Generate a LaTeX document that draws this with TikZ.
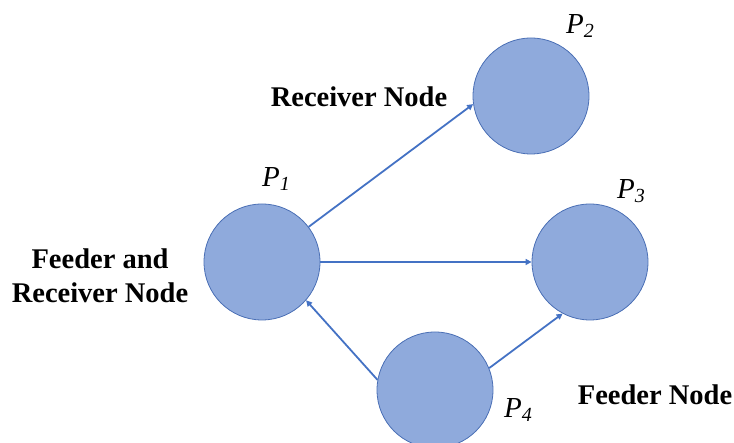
\documentclass[tikz,border=0pt]{standalone}
\usepackage{fontspec}
\setmainfont{Liberation Serif}
\usepackage{tikz}
\usetikzlibrary{arrows.meta}

\definecolor{nodefill}{HTML}{8FAADC}
\definecolor{nodeline}{HTML}{4A6FB5}
\definecolor{linkcol}{HTML}{4472C4}

\newcommand{\pname}[1]{\itshape P\raisebox{-0.35ex}{\fontsize{20}{20}\selectfont #1}}

\begin{document}
\begin{tikzpicture}[x=1pt,y=1pt,
peer/.style={circle,fill=nodefill,draw=nodeline,line width=0.8pt,minimum size=116pt,inner sep=0pt}, % vòng tròn
link/.style={draw=linkcol,line width=1.8pt,-{Triangle[length=6pt,width=6pt]}}, % mũi tên
role/.style={font=\fontsize{28.5}{34}\selectfont\bfseries,align=center}, % chữ đậm
tag/.style={font=\fontsize{29}{29}\selectfont} % nhãn P
]
\useasboundingbox (0,0) rectangle (734,443);
% các nút
\node[peer] (p1) at (262,181) {};
\node[peer] (p2) at (531,347) {};
\node[peer] (p3) at (590,181) {};
\node[peer] (p4) at (435,53) {};
% nhãn
\node[tag] (t1) at (276,264) {\pname{1}};
\node[tag] (t2) at (580,417) {\pname{2}};
\node[tag] (t3) at (631,252) {\pname{3}};
\node[tag] (t4) at (518,33) {\pname{4}};
\node[role] (r2) at (359,346) {Receiver Node};
\node[role] (r1) at (100,167) {Feeder and\\Receiver Node};
\node[role] (r4) at (655,48) {Feeder Node};
% mũi tên
\draw[link] (p1.37) -- (p2.188);
\draw[link] (p1.east) -- (p3.west);
\draw[link] (p4.170) -- (p1.319);
\draw[link] (p4.22) -- (p3.242);
\end{tikzpicture}
\end{document}
